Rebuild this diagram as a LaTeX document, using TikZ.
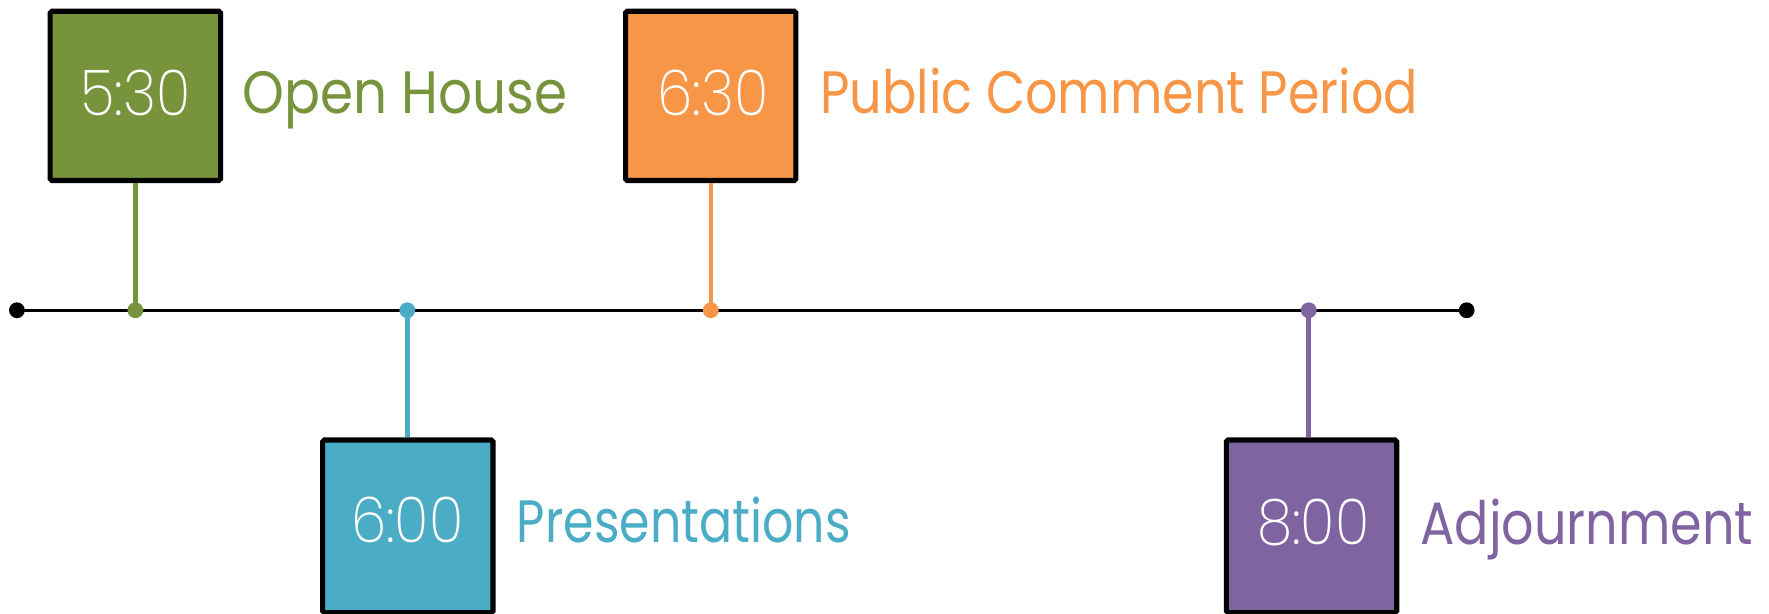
\documentclass[tikz,border=0pt]{standalone}
\usepackage{fontspec}
\setmainfont{Poppins}
\newfontfamily\thinfont{Poppins ExtraLight}
\definecolor{cgreen}{HTML}{77933C}
\definecolor{corange}{HTML}{F79646}
\definecolor{cblue}{HTML}{4BACC6}
\definecolor{cpurple}{HTML}{8064A2}
\newcommand{\squeezetext}[2]{\scalebox{#1}[1]{#2}}
\begin{document}
\begin{tikzpicture}[x=1pt,y=-1pt,
  timebox/.style={draw=black,line width=4.5pt,rounded corners=1.5pt,minimum width=151pt,minimum height=150pt,inner sep=0pt},
  timetext/.style={text=white,font=\thinfont\fontsize{56}{60}\selectfont,anchor=base,inner sep=0pt},
  labeltext/.style={font=\fontsize{53}{60}\selectfont,anchor=base west,inner sep=0pt},
  stem/.style={line width=4pt},
  axis/.style={line width=2.5pt,black}]
\useasboundingbox (0,0) rectangle (1568,544);
% timeline
\coordinate (L) at (15,275);
\coordinate (R) at (1300,275);
\coordinate (t1) at (120,275);
\coordinate (t2) at (361,275);
\coordinate (t3) at (630,275);
\coordinate (t4) at (1160,275);
\draw[axis] (L) -- (R);
\fill[black] (L) circle (7pt);
\fill[black] (R) circle (7pt);
% boxes
\node[timebox,fill=cgreen] (b1) at (120,85) {};
\node[timebox,fill=corange] (b3) at (630,85) {};
\node[timebox,fill=cblue,minimum height=153pt] (b2) at (361.5,466.5) {};
\node[timebox,fill=cpurple,minimum height=153pt] (b4) at (1162.5,466.5) {};
% stems
\draw[stem,cgreen] (t1 |- b1.south) -- (t1);
\draw[stem,corange] (t3 |- b3.south) -- (t3);
\draw[stem,cblue] (t2) -- (t2 |- b2.north);
\draw[stem,cpurple] (t4) -- (t4 |- b4.north);
\fill[cgreen] (t1) circle (7pt);
\fill[cblue] (t2) circle (7pt);
\fill[corange] (t3) circle (7pt);
\fill[cpurple] (t4) circle (7pt);
% times
\node[timetext] (n1) at (120,102) {\squeezetext{0.9}{5:30}};
\node[timetext] (n3) at (632,102) {\squeezetext{0.9}{6:30}};
\node[timetext] (n2) at (361,481) {\squeezetext{0.9}{6:00}};
\node[timetext] (n4) at (1164,483) {\squeezetext{0.9}{8:00}};
% labels
\node[labeltext,text=cgreen] (l1) at (215,101) {\squeezetext{0.89}{Open House}};
\node[labeltext,text=corange] (l3) at (727,101) {\squeezetext{0.85}{Public Comment Period}};
\node[labeltext,text=cblue] (l2) at (458,481) {\squeezetext{0.82}{Presentations}};
\node[labeltext,text=cpurple] (l4) at (1259,483) {\squeezetext{0.85}{Adjournment}};
\end{tikzpicture}
\end{document}
